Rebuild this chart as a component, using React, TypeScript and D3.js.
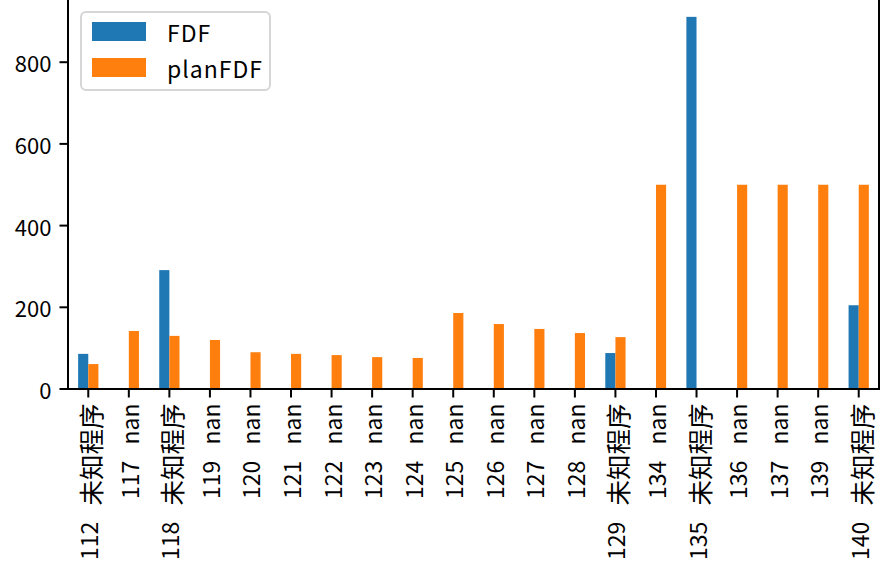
import React from "react";
import * as d3 from "d3";

const categories = [
  "112 未知程序", "117 nan", "118 未知程序", "119 nan", "120 nan", "121 nan",
  "122 nan", "123 nan", "124 nan", "125 nan", "126 nan", "127 nan", "128 nan",
  "129 未知程序", "134 nan", "135 未知程序", "136 nan", "137 nan", "139 nan",
  "140 未知程序",
];
const fdf: (number | null)[] = [
  86, null, 291, null, null, null, null, null, null, null, null, null, null,
  88, null, 911, null, null, null, 205,
];
const planFdf: (number | null)[] = [
  61, 142, 130, 120, 90, 86, 83, 78, 76, 186, 159, 147, 137,
  127, 500, null, 500, 500, 500, 500,
];
const yTicks = [0, 200, 400, 600, 800];
const seriesNames = ["FDF", "planFDF"];
const colors = ["#1f77b4", "#ff7f0e"];

const W = 881;
const H = 572;
const left = 68;
const right = 879;
const bottom = 389;
const pxPerUnit = 0.4085;
const FONT = "'Noto Sans CJK SC', 'Noto Sans', sans-serif";

export default function App() {
  const allVals = [...fdf, ...planFdf].filter((v) => v != null) as number[];
  const yMax = (d3.max(allVals) ?? 1) * 1.05;
  const y = d3.scaleLinear().domain([0, yMax]).range([bottom, bottom - yMax * pxPerUnit]);
  const x = d3.scaleBand<string>().domain(categories).range([left, right]).paddingInner(0).paddingOuter(0);
  const bw = x.bandwidth() * 0.25;
  const center = (c: string) => (x(c) ?? 0) + x.bandwidth() / 2;
  const series = [fdf, planFdf];
  const tickLen = 8.5;

  return (
    <svg
      width={W}
      height={H}
      style={{ position: "absolute", left: 0, top: 0, background: "#fff" }}
      fontFamily={FONT}
    >
      <rect x={0} y={0} width={W} height={H} fill="#fff" />
      {series.map((vals, si) =>
        vals.map((v, i) =>
          v == null ? null : (
            <rect
              key={`${si}-${i}`}
              x={center(categories[i]) - bw + si * bw}
              y={y(v)}
              width={bw}
              height={y(0) - y(v)}
              fill={colors[si]}
            />
          )
        )
      )}
      {/* spines */}
      <line x1={left} x2={left} y1={y(yMax)} y2={bottom} stroke="#000" strokeWidth={2} />
      <line x1={right} x2={right} y1={y(yMax)} y2={bottom} stroke="#000" strokeWidth={2} />
      <line x1={left - 1} x2={right + 1} y1={bottom} y2={bottom} stroke="#000" strokeWidth={2} />
      {/* y ticks */}
      {yTicks.map((t) => (
        <g key={t}>
          <line x1={left - tickLen} x2={left} y1={y(t)} y2={y(t)} stroke="#000" strokeWidth={2} />
          <text
            x={left - tickLen - 8}
            y={y(t)}
            textAnchor="end"
            dominantBaseline="central"
            fontSize={22}
            fill="#000"
          >
            {t}
          </text>
        </g>
      ))}
      {/* x ticks */}
      {categories.map((c) => {
        const cx = center(c);
        const [num, name] = c.split(" ");
        const isCjk = /[^\x00-\x7f]/.test(name);
        return (
          <g key={c}>
            <line x1={cx} x2={cx} y1={bottom} y2={bottom + tickLen} stroke="#000" strokeWidth={2} />
            <text
              transform={`translate(${cx},${bottom + tickLen + 6}) rotate(-90)`}
              textAnchor="end"
              dominantBaseline="central"
              fontSize={23}
              fill="#000"
            >
              <tspan>{num + "\u2002\u2009"}</tspan>
              <tspan fontSize={isCjk ? 25.5 : 23} dy={isCjk ? 1 : 0}>{name}</tspan>
            </text>
          </g>
        );
      })}
      {/* legend */}
      <g>
        <rect x={81} y={12} width={189} height={78} rx={5} ry={5} fill="#fff" fillOpacity={0.8} stroke="#d6d6d6" strokeWidth={2} />
        {seriesNames.map((n, i) => (
          <g key={n}>
            <rect x={92} y={22 + i * 36} width={54} height={19} fill={colors[i]} />
            <text x={167} y={32 + i * 36} dominantBaseline="central" fontSize={23} letterSpacing={1} fill="#000">
              {n}
            </text>
          </g>
        ))}
      </g>
    </svg>
  );
}
